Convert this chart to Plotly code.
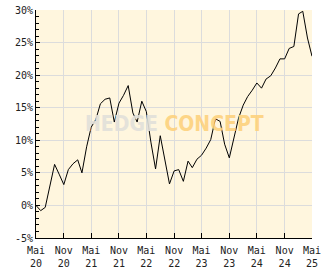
import plotly.graph_objects as go
import pandas as pd

start_month = "2020-05-01"
values = [0.0, -0.8, -0.3, 3.2, 6.3, 4.8, 3.2, 5.5, 6.4, 7.0,
          5.0, 9.0, 12.0, 13.2, 15.6, 16.3, 16.5, 12.8, 15.7, 16.9,
          18.4, 14.2, 12.8, 16.0, 14.4, 9.6, 5.6, 10.7, 7.0, 3.3,
          5.3, 5.5, 3.7, 6.8, 5.8, 7.1, 7.7, 8.8, 10.1, 13.3,
          12.9, 9.4, 7.3, 10.1, 13.4, 15.4, 16.7, 17.7, 18.8, 18.0,
          19.4, 19.9, 21.1, 22.5, 22.5, 24.1, 24.4, 29.4, 29.8, 25.7,
          22.9]
dates = pd.date_range(start_month, periods=len(values), freq="MS")

tick_dates = ["2020-05-01", "2020-11-01", "2021-05-01", "2021-11-01", "2022-05-01",
              "2022-11-01", "2023-05-01", "2023-11-01", "2024-05-01", "2024-11-01",
              "2025-05-01"]
tick_text = ["Mai<br>20", "Nov<br>20", "Mai<br>21", "Nov<br>21", "Mai<br>22",
             "Nov<br>22", "Mai<br>23", "Nov<br>23", "Mai<br>24", "Nov<br>24",
             "Mai<br>25"]
y_ticks = [-5, 0, 5, 10, 15, 20, 25, 30]
y_text = ["-5%", "0%", "5%", "10%", "15%", "20%", "25%", "30%"]

fig = go.Figure()
fig.add_trace(go.Scatter(x=dates, y=values, mode="lines",
                         line=dict(color="black", width=1), hoverinfo="skip"))

font = dict(family="DejaVu Sans Mono", size=10, color="#222")
fig.update_layout(
    width=332, height=269,
    margin=dict(l=36, r=20, t=10, b=31, autoexpand=False),
    paper_bgcolor="white", plot_bgcolor="#FFF6DE",
    showlegend=False, font=font,
    xaxis=dict(range=[dates[0], dates[-1]], tickmode="array", tickvals=tick_dates,
               ticktext=tick_text, showgrid=True, gridcolor="#DCDCDC", gridwidth=1,
               showline=True, linecolor="black", linewidth=1, automargin=False,
               ticks="inside", ticklen=5, tickcolor="black", tickangle=0,
               ticklabelstandoff=3, zeroline=False, tickfont=font),
    yaxis=dict(range=[-5, 30], tickmode="array", tickvals=y_ticks, ticktext=y_text,
               showgrid=True, gridcolor="#DCDCDC", gridwidth=1, automargin=False,
               showline=True, linecolor="black", linewidth=1,
               ticks="inside", ticklen=4, tickcolor="black", zeroline=False,
               minor=dict(dtick=1, ticks="inside", ticklen=3, tickcolor="black", showgrid=False),
               tickfont=font),
)
fig.add_annotation(
    x=0.5, y=0.5, xref="paper", yref="paper", showarrow=False,
    text="<b><span style='color:#E2E0DA'>HEDGE</span> <span style='color:#FDD27E'>CONCEPT</span></b>",
    font=dict(family="DejaVu Sans Condensed, Liberation Sans", size=21), opacity=0.9,
)
fig.write_html("out.html")
